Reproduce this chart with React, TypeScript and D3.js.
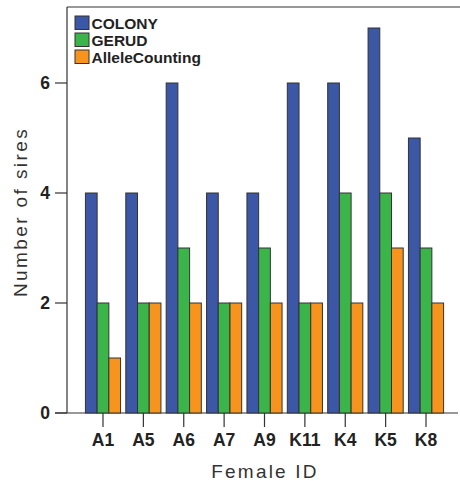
import React from 'react'
import * as d3 from 'd3'

const females = ['A1', 'A5', 'A6', 'A7', 'A9', 'K11', 'K4', 'K5', 'K8']
const methods = ['COLONY', 'GERUD', 'AlleleCounting']
const colony = [4, 4, 6, 4, 4, 6, 6, 7, 5]
const gerud = [2, 2, 3, 2, 3, 2, 4, 4, 3]
const alleleCounting = [1, 2, 2, 2, 2, 2, 2, 3, 2]
const yTicks = [0, 2, 4, 6]
const colors = ['#3b57a5', '#3bb54a', '#f7941d']

const W = 460
const H = 481

export default function App() {
  const series = [colony, gerud, alleleCounting]

  // plot frame
  const left = 67
  const bottom = 413
  const top = 7

  const x = d3.scaleBand<string>()
    .domain(females)
    .range([82.8, 446.2])
    .paddingInner(0.13)
    .paddingOuter(0.065)

  const xInner = d3.scaleBand<string>()
    .domain(methods)
    .range([0, x.bandwidth()])

  const y = d3.scaleLinear().domain([0, 6]).range([bottom, 83])

  const font = 'Liberation Sans, Arial, Helvetica, sans-serif'

  return (
    <svg width={W} height={H} style={{ position: 'absolute', left: 0, top: 0 }} fontFamily={font}>
      <rect width={W} height={H} fill="#fff" />
      {/* frame */}
      <line x1={left} x2={W} y1={top} y2={top} stroke="#333" strokeWidth={1.2} />
      <line x1={left} x2={left} y1={top} y2={bottom} stroke="#333" strokeWidth={1.2} />
      <line x1={55} x2={W - 2} y1={bottom} y2={bottom} stroke="#333" strokeWidth={1.2} />

      {/* bars */}
      {females.map((f, i) => (
        <g key={f} transform={`translate(${x(f)},0)`}>
          {methods.map((m, j) => (
            <rect
              key={m}
              x={xInner(m)}
              y={y(series[j][i])}
              width={xInner.bandwidth()}
              height={bottom - y(series[j][i])}
              fill={colors[j]}
              stroke="#333"
              strokeWidth={1}
            />
          ))}
        </g>
      ))}

      {/* y ticks */}
      {yTicks.map(t => (
        <g key={t}>
          <line x1={55} x2={left} y1={y(t)} y2={y(t)} stroke="#333" strokeWidth={1.2} />
          <text x={50} y={y(t)} dy="0.36em" textAnchor="end" fontSize={17.5} fontWeight="bold" fill="#222">{t}</text>
        </g>
      ))}

      {/* x ticks */}
      {females.map(f => {
        const cx = (x(f) ?? 0) + x.bandwidth() / 2
        return (
          <g key={f}>
            <line x1={cx} x2={cx} y1={bottom} y2={427} stroke="#333" strokeWidth={1.2} />
            <text x={cx} y={446} textAnchor="middle" fontSize={17.5} fontWeight="bold" fill="#222">{f}</text>
          </g>
        )
      })}

      {/* axis titles */}
      <text x={265} y={478} textAnchor="middle" fontSize={19} letterSpacing={2.2} fill="#333">Female ID</text>
      <text transform="translate(27,212) rotate(-90)" textAnchor="middle" fontSize={19} letterSpacing={2.4} fill="#333">Number of sires</text>

      {/* legend */}
      {methods.map((m, j) => (
        <g key={m} transform={`translate(75,${16 + j * 17})`}>
          <rect width={14} height={13.5} fill={colors[j]} stroke="#333" strokeWidth={1} />
          <text x={16.5} y={12.5} fontSize={15.5} fontWeight="bold" fill="#222">{m}</text>
        </g>
      ))}
    </svg>
  )
}
